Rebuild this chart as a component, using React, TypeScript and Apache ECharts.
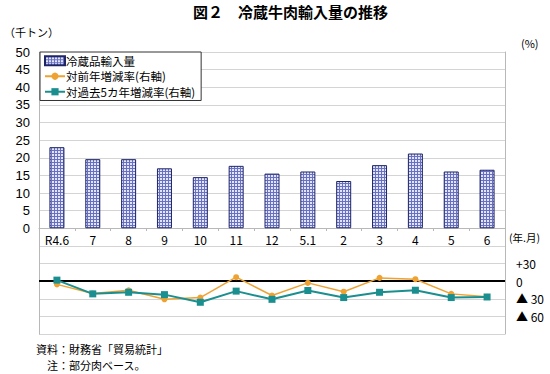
import React, { useEffect, useRef } from "react";
import * as echarts from "echarts";

const categories = ["R4.6", "7", "8", "9", "10", "11", "12", "5.1", "2", "3", "4", "5", "6"];
const importVolume = [23.0, 19.6, 19.6, 17.0, 14.5, 17.7, 15.5, 16.1, 13.4, 17.9, 21.2, 16.1, 16.6];
const yoyChange = [-5.5, -21, -15.5, -31, -28, 6.7, -24.5, -3, -18, 5.5, 3.3, -21.7, -26.7];
const fiveYearChange = [1.7, -21.7, -19, -23, -36, -17, -31, -16, -28, -19, -15.5, -28, -27];
const rightTickLabels: Record<number, string> = { 30: "+30", 0: "0", [-30]: "▲ 30", [-60]: "▲ 60" };

const FONT = "'Noto Sans CJK JP', 'Liberation Sans', sans-serif";

function makePattern(): HTMLCanvasElement {
  const c = document.createElement("canvas");
  c.width = 3;
  c.height = 3;
  const ctx = c.getContext("2d")!;
  ctx.fillStyle = "#e2e5f8";
  ctx.fillRect(0, 0, 3, 3);
  ctx.fillStyle = "#6870c4";
  ctx.fillRect(0, 0, 3, 1);
  ctx.fillRect(0, 0, 1, 3);
  return c;
}

export default function App() {
  const ref = useRef<HTMLDivElement>(null);
  useEffect(() => {
    const chart = echarts.init(ref.current!, null, { renderer: "svg" });
    const pattern = { image: makePattern(), repeat: "repeat" as const };
    chart.setOption({
      animation: false,
      backgroundColor: "#ffffff",
      textStyle: { fontFamily: FONT },
      grid: { left: 39, right: 45, top: 52, bottom: 40, containLabel: false },
      legend: {
        orient: "vertical",
        left: 40,
        top: 52,
        itemGap: 4,
        itemWidth: 20,
        itemHeight: 9,
        padding: [3, 6, 3, 4],
        borderColor: "#333333",
        borderWidth: 1,
        backgroundColor: "#ffffff",
        textStyle: { fontSize: 11.5, color: "#000", fontFamily: FONT, padding: [0, 0, 0, -4] },
        data: [
          { name: "冷蔵品輸入量", icon: "rect" },
          { name: "対前年増減率(右軸)" },
          { name: "対過去5カ年増減率(右軸)" },
        ],
      },
      xAxis: {
        type: "category",
        data: categories,
        boundaryGap: true,
        position: "bottom",
        offset: -106,
        axisLine: { onZero: false, lineStyle: { color: "#b8b8b8", width: 1 } },
        axisTick: { show: true, length: 3, lineStyle: { color: "#b8b8b8" } },
        axisLabel: { color: "#000", fontSize: 12, margin: 5, fontFamily: FONT },
      },
      yAxis: [
        {
          type: "value",
          min: -30,
          max: 50,
          interval: 5,
          position: "left",
          axisLine: { show: true, lineStyle: { color: "#b8b8b8" } },
          axisTick: { show: false },
          splitLine: { lineStyle: { color: "#d4d4d4" } },
          axisLabel: {
            color: "#000",
            fontSize: 13,
            margin: 9,
            fontFamily: "'Liberation Sans', sans-serif",
            formatter: (v: number) => (v >= 0 ? String(v) : ""),
          },
        },
        {
          type: "value",
          min: -90,
          max: 390,
          interval: 30,
          position: "right",
          axisLine: { show: true, lineStyle: { color: "#b8b8b8" } },
          axisTick: { show: false },
          splitLine: { show: false },
          axisLabel: {
            color: "#000",
            fontSize: 12,
            margin: 11,
            fontFamily: FONT,
            formatter: (v: number) => rightTickLabels[v] ?? "",
          },
        },
      ],
      series: [
        {
          name: "冷蔵品輸入量",
          type: "bar",
          data: importVolume,
          yAxisIndex: 0,
          barWidth: 15,
          itemStyle: { color: pattern as any, borderColor: "#1e2566", borderWidth: 1 },
        },
        {
          name: "対前年増減率(右軸)",
          type: "line",
          data: yoyChange,
          yAxisIndex: 1,
          symbol: "circle",
          symbolSize: 6,
          itemStyle: { color: "#eea232" },
          lineStyle: { color: "#eea232", width: 1.5 },
          z: 3,
        },
        {
          name: "対過去5カ年増減率(右軸)",
          type: "line",
          data: fiveYearChange,
          yAxisIndex: 1,
          symbol: "rect",
          symbolSize: 7,
          itemStyle: { color: "#1b8f8f" },
          lineStyle: { color: "#1b8f8f", width: 2 },
          z: 4,
          markLine: {
            silent: true,
            symbol: "none",
            label: { show: false },
            lineStyle: { color: "#000", width: 2, type: "solid" },
            data: [{ yAxis: 0 }],
            z: 2,
          },
        },
      ],
      graphic: [
        {
          type: "text",
          left: 193,
          top: 4,
          style: { text: "図２　冷蔵牛肉輸入量の推移", fontSize: 15, fontWeight: "bold", fill: "#000", fontFamily: FONT },
        },
        { type: "text", left: 4, top: 26, style: { text: "（千トン）", fontSize: 11, fill: "#000", fontFamily: FONT } },
        { type: "text", left: 521, top: 37, style: { text: "(%)", fontSize: 11, fill: "#000", fontFamily: FONT } },
        { type: "text", left: 509, top: 232, style: { text: "(年.月)", fontSize: 10.5, fill: "#000", fontFamily: FONT } },
        { type: "text", left: 36, top: 343, style: { text: "資料：財務省「貿易統計」", fontSize: 11, fill: "#000", fontFamily: FONT } },
        { type: "text", left: 47, top: 359, style: { text: "注：部分肉ベース。", fontSize: 11, fill: "#000", fontFamily: FONT } },
      ],
    });
    return () => chart.dispose();
  }, []);
  return <div ref={ref} style={{ position: "fixed", left: 0, top: 0, width: 550, height: 374 }} />;
}
